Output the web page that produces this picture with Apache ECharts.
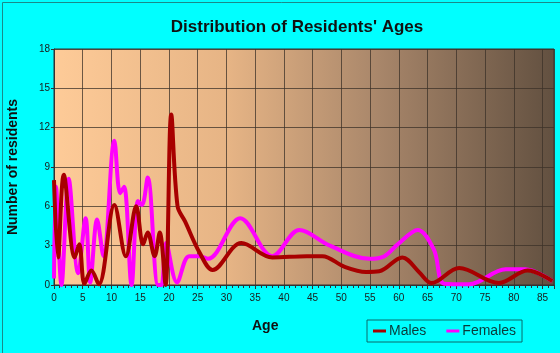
<!DOCTYPE html>
<html>
<head>
<meta charset="utf-8">
<script src="https://cdn.jsdelivr.net/npm/echarts@6/dist/echarts.min.js"></script>
<style>
  html, body { margin: 0; padding: 0; }
  #main { width: 560px; height: 353px; }
</style>
</head>
<body>
<div id="main"></div>
<script>
// ages / counts
const males = [
  [0, 8.0], [0.7, 2.1], [1.7, 8.4], [3.6, 2.1], [4.4, 3.1], [5.3, 0.1], [6.5, 1.1], [7.8, 0.05],
  [10.5, 6.1], [12.5, 2.2], [14.3, 6.0], [15.5, 3.1], [16.3, 4.0], [17.5, 2.2], [18.4, 4.0],
  [19.4, 0], [20.4, 13.0], [21.5, 6.0], [22.8, 4.85], [25.3, 2.5], [27.6, 1.15], [32.6, 3.2],
  [38, 2.1], [44, 2.2], [46.7, 2.2], [50.5, 1.4], [54.3, 1.0], [56.6, 1.05], [60.6, 2.1],
  [63.5, 1.0], [65.7, 0.15], [70.5, 1.3], [77.4, 0.15], [82.4, 1.1], [86.7, 0.3]
]
const females = [
  [0, 0.5], [0.35, 7.5], [1.3, 0], [2.55, 8.1], [4.2, 0.9], [5.5, 5.1], [6.3, 0.2], [7.5, 5.0],
  [8.6, 2.2], [10.5, 11.0], [11.5, 7.0], [12.2, 7.5], [13.5, 0], [14.6, 6.4], [15.3, 6.1],
  [16.3, 8.2], [18.1, 0], [18.7, 0], [19.5, 3.2], [21.4, 0.2], [23.5, 2.2], [25.3, 2.2],
  [26.8, 2.0], [32.4, 5.1], [38, 2.2], [42.7, 4.2], [48, 3.0], [54.9, 2.0], [57.5, 2.2],
  [59.8, 3.1], [63.3, 4.2], [66.1, 2.7], [67.9, 0.1], [72.2, 0.05], [78.6, 1.2], [82, 1.2],
  [86.7, 0.3]
]
const seriesNames = ['Males', 'Females']

let myChart = echarts.init(document.getElementById('main'))

const gridCol = 'rgba(60,50,40,0.75)'
const txt = '#1a1a1a'

let option = {
  backgroundColor: '#00ffff',
  animation: false,
  textStyle: {fontFamily: 'Liberation Sans, Arial, sans-serif'},
  title: {
    text: "Distribution of Residents' Ages",
    left: 292,
    textAlign: 'center',
    top: 14,
    textStyle: {fontSize: 17, fontWeight: 'bold', color: '#111'}
  },
  graphic: [
    {
      type: 'rect', left: 0, top: 0, z: 100, silent: true,
      shape: {x: 0.5, y: 0.5, width: 559, height: 352},
      style: {fill: null, stroke: '#1a8a8a', lineWidth: 1}
    },
    {
      type: 'text', left: 252, top: 319,
      style: {text: 'Age', fontSize: 14, fontWeight: 'bold', fill: '#111', fontFamily: 'Liberation Sans, Arial, sans-serif'}
    }
  ],
  legend: {
    data: seriesNames,
    left: 367,
    top: 320,
    orient: 'horizontal',
    icon: 'rect',
    itemWidth: 13,
    itemHeight: 3,
    itemGap: 20,
    padding: [4, 6, 4, 6],
    borderColor: '#0a6a6a',
    borderWidth: 1,
    textStyle: {fontSize: 14, color: '#0a3a3a', padding: [0, 0, 0, -2]}
  },
  grid: {
    left: 54, right: 6, top: 49, bottom: 68,
    outerBoundsMode: 'none',
    show: true,
    borderColor: '#333',
    borderWidth: 1,
    backgroundColor: new echarts.graphic.LinearGradient(0, 0, 1, 0, [
      {offset: 0, color: '#fecb98'},
      {offset: 0.35, color: '#e6b485'},
      {offset: 0.65, color: '#a8866a'},
      {offset: 1, color: '#625040'}
    ])
  },
  xAxis: {
    type: 'value',
    min: 0,
    max: 87,
    interval: 5,
    axisLine: {show: true, lineStyle: {color: '#333'}},
    axisTick: {show: true, length: 4, lineStyle: {color: '#333'}},
    minorTick: {show: true, splitNumber: 5, length: 3, lineStyle: {color: '#333'}},
    splitLine: {show: true, lineStyle: {color: gridCol, width: 1}},
    axisLabel: {showMaxLabel: false, fontSize: 10, color: txt, margin: 8}
  },
  yAxis: {
    type: 'value',
    name: 'Number of residents',
    nameLocation: 'middle',
    nameGap: 34,
    nameTextStyle: {fontSize: 14, fontWeight: 'bold', color: '#111'},
    min: 0,
    max: 18,
    interval: 3,
    axisLine: {show: true, lineStyle: {color: '#333'}},
    axisTick: {show: true, length: 3, lineStyle: {color: '#333'}},
    splitLine: {show: true, lineStyle: {color: gridCol, width: 1}},
    axisLabel: {fontSize: 10, color: txt, margin: 4}
  },
  series: [
    {
      name: seriesNames[0],
      type: 'line',
      data: males,
      smooth: 0.35,
      symbol: 'none',
      z: 3,
      color: '#a80000',
      lineStyle: {width: 4, color: '#a80000'}
    },
    {
      name: seriesNames[1],
      type: 'line',
      data: females,
      smooth: 0.35,
      symbol: 'none',
      z: 2,
      color: '#ff00ff',
      lineStyle: {width: 4, color: '#ff00ff'}
    }
  ]
}

myChart.setOption(option)
</script>
</body>
</html>
